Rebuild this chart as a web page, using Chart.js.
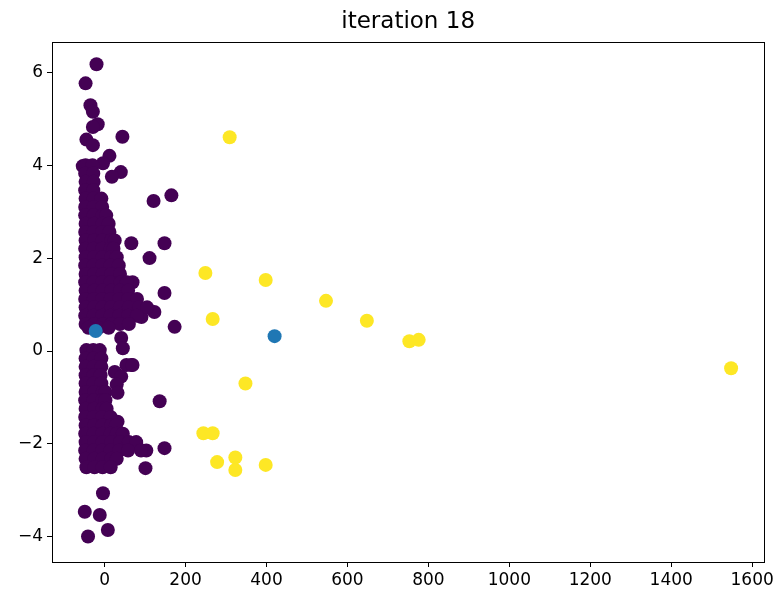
<!DOCTYPE html>
<html>
<head>
<meta charset="utf-8">
<script src="https://cdn.jsdelivr.net/npm/chart.js@4/dist/chart.umd.min.js"></script>
<style>
  html, body { margin: 0; padding: 0; background: #fff; }
  #wrap { width: 777px; height: 595px; }
</style>
</head>
<body>
<div id="wrap"><canvas id="myChart" width="777" height="595"></canvas></div>
<script>
const titleText = "iteration 18";
const xTicks = [0, 200, 400, 600, 800, 1000, 1200, 1400, 1600];
const yTicks = [-4, -2, 0, 2, 4, 6];

// cluster centres
const centreX = [-22, 420];
const centreY = [0.43, 0.32];

// outlier cluster (yellow)
const yellowX = [309, 249, 398, 547, 267, 648, 753, 776, 348, 244, 267, 278, 323, 323, 398, 1548];
const yellowY = [4.60, 1.68, 1.53, 1.08, 0.69, 0.65, 0.21, 0.24, -0.70, -1.77, -1.77, -2.39, -2.29, -2.56, -2.45, -0.37];

// main cluster (purple)
const purpleX = [
  -20, -47, -35, -29, -17, -29, 44, -45, -29, 12, -4, -54, 40, 18, 121, 165,
  66, 148, 111, 69, 148, 74, 123, 91, 173, 41, 45, 66, 136, 32, 78, 103, 148, 101, -4, -49, -12, 8, -41,
  -47, -30,
  -48, -28,
  -47, -27,
  -48, -28,
  -47, -27, -8,
  -48, -27, -6,
  -48, -27, -5, 4,
  -47, -26, -5, 10,
  -48, -27, -6, 12,
  -47, -26, -5, 16, 25,
  -48, -27, -6, 15, 22,
  -47, -26, -5, 16, 30,
  -48, -27, -6, 15, 35,
  -47, -26, -5, 16, 38,
  -48, -27, -6, 15, 40, 55,
  -47, -26, -5, 16, 38, 58,
  -48, -27, -6, 15, 36, 58, 80,
  -47, -26, -5, 16, 38, 60, 85, 105,
  -48, -27, -6, 15, 36, 58, 80,
  -47, -26, -5, 16, 38, 60,
  -40, -15, 10,
  -45, -28, -12,
  -47, -27, -8,
  -47, -27, -8, 54, 69,
  -47, -27, -10, 25, 41,
  -47, -27, -8, 30,
  -47, -26, -5, 2, 32,
  -48, -27, -6, 2,
  -47, -26, -5, 5,
  -48, -27, -6, 15,
  -47, -26, -5, 16, 28,
  -48, -27, -6, 15, 30, 45,
  -47, -26, -5, 16, 38, 60, 78,
  -48, -27, -6, 15, 36, 58, 90,
  -47, -26, -5, 16, 30,
  -45, -25, -5, 15
];
const purpleY = [
  6.17, 5.76, 5.29, 5.15, 4.88, 4.82, 4.61, 4.55, 4.43, 4.20, 4.04, 3.98, 3.85, 3.75, 3.23, 3.35,
  2.32, 2.32, 2.00, 1.48, 1.25, 1.05, 0.84, 0.73, 0.52, 0.28, 0.06, -0.30, -1.08, -1.52, -1.99, -2.14, -2.09, -2.52, -3.06, -3.46, -3.53, -3.85, -3.99,
  4.0, 4.0,
  3.82, 3.82,
  3.64, 3.64,
  3.46, 3.46,
  3.28, 3.28, 3.28,
  3.1, 3.1, 3.1,
  2.92, 2.92, 2.92, 2.92,
  2.74, 2.74, 2.74, 2.74,
  2.56, 2.56, 2.56, 2.56,
  2.38, 2.38, 2.38, 2.38, 2.38,
  2.2, 2.2, 2.2, 2.2, 2.2,
  2.02, 2.02, 2.02, 2.02, 2.02,
  1.84, 1.84, 1.84, 1.84, 1.84,
  1.66, 1.66, 1.66, 1.66, 1.66,
  1.48, 1.48, 1.48, 1.48, 1.48, 1.48,
  1.3, 1.3, 1.3, 1.3, 1.3, 1.3,
  1.12, 1.12, 1.12, 1.12, 1.12, 1.12, 1.12,
  0.94, 0.94, 0.94, 0.94, 0.94, 0.94, 0.94, 0.94,
  0.76, 0.76, 0.76, 0.76, 0.76, 0.76, 0.76,
  0.58, 0.58, 0.58, 0.58, 0.58, 0.58,
  0.5, 0.5, 0.5,
  0.02, 0.02, 0.02,
  -0.16, -0.16, -0.16,
  -0.34, -0.34, -0.34, -0.3, -0.3,
  -0.52, -0.52, -0.52, -0.45, -0.55,
  -0.7, -0.7, -0.7, -0.72,
  -0.88, -0.88, -0.88, -0.88, -0.9,
  -1.06, -1.06, -1.06, -1.06,
  -1.24, -1.24, -1.24, -1.24,
  -1.42, -1.42, -1.42, -1.42,
  -1.6, -1.6, -1.6, -1.6, -1.6,
  -1.78, -1.78, -1.78, -1.78, -1.78, -1.78,
  -1.96, -1.96, -1.96, -1.96, -1.96, -1.96, -1.96,
  -2.14, -2.14, -2.14, -2.14, -2.14, -2.14, -2.14,
  -2.32, -2.32, -2.32, -2.32, -2.32,
  -2.5, -2.5, -2.5, -2.5
];

function toPoints(xs, ys) {
  return xs.map((x, i) => ({ x: x, y: ys[i] }));
}

// matplotlib style closed frame round the plot area
const frameBox = {
  id: "frameBox",
  beforeDraw(chart) {
    const c = chart.ctx;
    c.save();
    c.fillStyle = "#fff";
    c.fillRect(0, 0, chart.width, chart.height);
    c.restore();
  },
  afterDraw(chart) {
    const a = chart.chartArea;
    const c = chart.ctx;
    c.save();
    c.strokeStyle = "#000";
    c.lineWidth = 1;
    c.strokeRect(Math.round(a.left) + 0.5, Math.round(a.top) + 0.5, Math.round(a.right - a.left), Math.round(a.bottom - a.top));
    c.restore();
  },
};

Chart.defaults.font.family = "'DejaVu Sans', sans-serif";
Chart.defaults.color = "black";

const ctx = document.getElementById("myChart");

new Chart(ctx, {
  type: "scatter",
  data: {
    datasets: [
      {
        label: "centres",
        data: toPoints(centreX, centreY),
        backgroundColor: "#1f77b4",
        borderWidth: 0,
        pointRadius: 7,
      },
      {
        label: "cluster 1",
        data: toPoints(yellowX, yellowY),
        backgroundColor: "#fde725",
        borderWidth: 0,
        pointRadius: 7,
      },
      {
        label: "cluster 0",
        data: toPoints(purpleX, purpleY),
        backgroundColor: "#440154",
        borderWidth: 0,
        pointRadius: 7,
      },
    ],
  },
  options: {
    responsive: false,
    animation: false,
    layout: {
      padding: { left: 0, right: 12, top: 0, bottom: 0 },
    },
    plugins: {
      legend: { display: false },
      tooltip: { enabled: false },
      title: {
        display: true,
        text: titleText,
        fullSize: false,
        color: "#000",
        font: { size: 23, weight: "normal" },
        padding: { top: 8, bottom: 6.4 },
      },
    },
    scales: {
      x: {
        type: "linear",
        min: -130,
        max: 1630,
        afterBuildTicks: (scale) => {
          scale.ticks = xTicks.map((v) => ({ value: v }));
        },
        afterFit: (scale) => {
          scale.height = 33;
        },
        grid: {
          drawOnChartArea: false,
          drawTicks: true,
          tickLength: 5,
          color: "#000",
        },
        border: { display: true, color: "#000" },
        ticks: {
          color: "#000",
          font: { size: 17 },
          padding: 3,
          maxRotation: 0,
          callback: (v) => String(v).replace("-", "\u2212"),
        },
      },
      y: {
        type: "linear",
        min: -4.54,
        max: 6.65,
        afterBuildTicks: (scale) => {
          scale.ticks = yTicks.map((v) => ({ value: v }));
        },
        afterFit: (scale) => {
          scale.width = 52;
        },
        grid: {
          drawOnChartArea: false,
          drawTicks: true,
          tickLength: 5,
          color: "#000",
        },
        border: { display: true, color: "#000" },
        ticks: {
          color: "#000",
          font: { size: 17 },
          padding: 4,
          callback: (v) => String(v).replace("-", "\u2212"),
        },
      },
    },
  },
  plugins: [frameBox],
});
</script>
</body>
</html>
